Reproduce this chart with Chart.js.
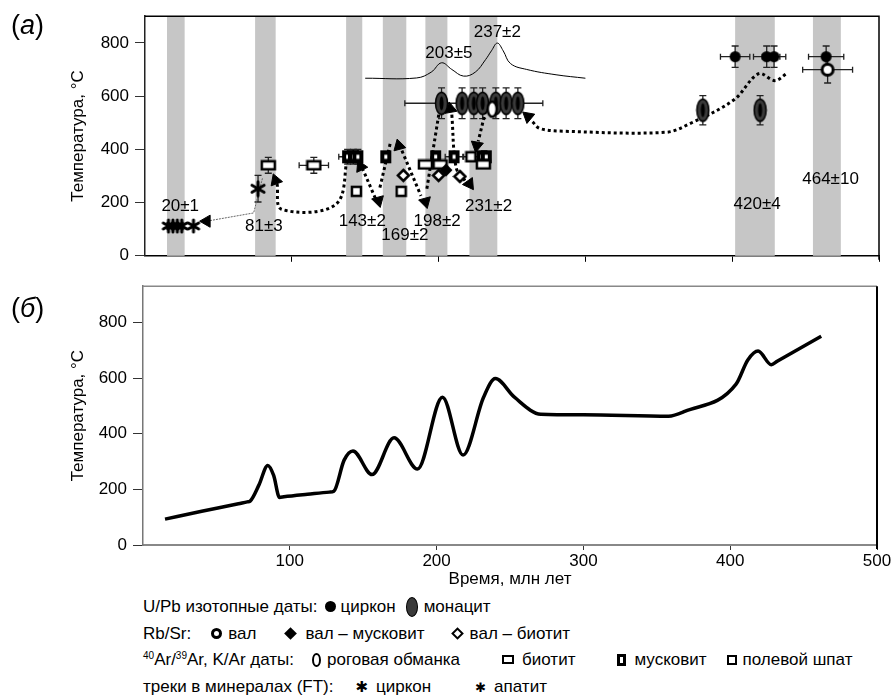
<!DOCTYPE html>
<html>
<head>
<meta charset="utf-8">
<script src="https://cdn.jsdelivr.net/npm/chart.js@4.4.1/dist/chart.umd.min.js"></script>
<style>
body { margin: 0; background: #fff; width: 895px; height: 698px; position: relative; overflow: hidden; font-family: "Liberation Sans", Arial, sans-serif; }
#ca { position: absolute; left: 0; top: 0; }
#cb { position: absolute; left: 0; top: 270px; }
.tag { position: absolute; left: 11px; font-size: 27px; color: #000; }
.tag i { font-style: italic; }
#legend { position: absolute; left: 143px; top: 594px; font-size: 17px; line-height: 26.7px; color: #000; white-space: nowrap; }
#legend sup { font-size: 10px; vertical-align: 6px; line-height: 0; }
.m { display: inline-block; vertical-align: middle; margin: 0 6px 2px 10px; box-sizing: border-box; }
.zr { width: 11px; height: 11px; border-radius: 50%; background: #000; margin-left: 8px; margin-right: 4px; }
.mz { width: 12px; height: 20px; border-radius: 50%; background: #3a3a3a; border: 1.5px solid #000; margin-left: 10px; }
.rw { width: 11px; height: 11px; border-radius: 50%; border: 3px solid #000; margin-left: 20px; }
.dm { width: 9px; height: 9px; background: #000; transform: rotate(45deg); margin-left: 30px; margin-right: 10px; }
.db { width: 9px; height: 9px; border: 2.5px solid #000; background: #fff; transform: rotate(45deg); margin-left: 28px; margin-right: 8px; }
.hb { width: 9px; height: 14px; border-radius: 50%; border: 2.5px solid #000; margin-left: 18px; margin-right: 6px; }
.bt { width: 12px; height: 9px; border: 2.5px solid #000; margin-left: 42px; margin-right: 8px; }
.ms { width: 9px; height: 12px; border: 3px solid #000; margin-left: 42px; margin-right: 8px; }
.fs { width: 10px; height: 10px; border: 2.5px solid #000; margin-left: 20px; margin-right: 6px; }
.as { font-family: "DejaVu Sans", sans-serif; font-size: 15px; font-weight: bold; margin: 0 8px 0 22px; }
.as2 { font-family: "DejaVu Sans", sans-serif; font-size: 13px; font-weight: bold; margin: 0 8px 0 44px; }
</style>
</head>
<body>
<canvas id="ca" width="895" height="272"></canvas>
<canvas id="cb" width="895" height="320"></canvas>
<div class="tag" style="top:10px">(<i>a</i>)</div>
<div class="tag" style="top:293px">(<i>б</i>)</div>
<div id="legend">
  <div>U/Pb изотопные даты:<span class="m zr"></span>циркон<span class="m mz"></span>монацит</div>
  <div>Rb/Sr:<span class="m rw"></span>вал<span class="m dm"></span>вал – мусковит<span class="m db"></span>вал – биотит</div>
  <div><sup>40</sup>Ar/<sup>39</sup>Ar, K/Ar даты:<span class="m hb"></span>роговая обманка<span class="m bt"></span>биотит<span class="m ms"></span>мусковит<span class="m fs"></span>полевой шпат</div>
  <div>треки в минералах (FT):<span class="as">✱</span>циркон<span class="as2">✱</span>апатит</div>
</div>
<script>
const F = '"Liberation Sans", Arial, sans-serif';

const xTicks = [100, 200, 300, 400, 500];
const yTicks = [0, 200, 400, 600, 800];
const bands = [[15, 27], [75, 89], [137, 148], [162, 178], [191, 206], [221, 240], [402, 429], [455, 474]];

// U/Pb, циркон
const zirconX = [402, 423.5, 428.5, 464];
const zirconY = [748, 748, 748, 748];
const zirconXErr = [10, 9, 8, 12];
const zirconYErr = [40, 40, 40, 40];

// U/Pb, монацит
const monaziteX = [202, 216, 224, 230, 239, 246, 254, 380, 419];
const monaziteY = [573, 573, 573, 573, 573, 573, 573, 547, 547];
const monaziteXErr = [0, 0, 47, 0, 0, 0, 0, 0, 0];
const monaziteYErr = [58, 58, 58, 58, 58, 58, 58, 55, 55];

// Rb/Sr
const wholeX = [465];
const wholeY = [699];
const wholeXErr = [17];
const wholeYErr = [50];
const valMuscX = [205];
const valMuscY = [322];
const valBioX = [176, 200, 214.5];
const valBioY = [302, 302, 298];

// Ar/Ar, K/Ar
const hornblendeX = [236.5];
const hornblendeY = [551];
const biotiteX = [84, 115, 191, 201, 230.5];
const biotiteY = [340, 340, 343, 343, 343];
const biotiteXErr = [0, 10, 4, 0, 0];
const biotiteYErr = [30, 30, 8, 8, 10];
const muscoviteX = [138, 142, 145, 164, 198, 210.5, 229.5, 232.5];
const muscoviteY = [372, 372, 372, 372, 372, 372, 372, 372];
const muscoviteXErr = [6, 0, 0, 0, 0, 6, 0, 0];
const muscoviteYErr = [28, 28, 28, 15, 12, 12, 12, 12];
const feldsparX = [144, 174.5, 222];
const feldsparY = [242, 242, 372];
const feldsparXErr = [0, 0, 5];
const feldsparYErr = [15, 15, 12];

// FT
const ftZirconX = [77];
const ftZirconY = [252];
const ftZirconYErr = [50];
const ftApatiteX = [16, 19, 22, 25, 33];
const ftApatiteY = [112, 112, 112, 112, 112];

// распределение возрастов циркона
const densX = [150, 185, 195, 202, 209, 217, 225, 232, 236, 240, 244, 249, 260, 280, 300];
const densY = [667, 668, 690, 725, 700, 675, 690, 737, 770, 799, 770, 722, 700, 680, 667];

// путь T-t (а)
const thinPath = [[80, 291], [74, 161], [42, 130]];
const dottedPaths = [
  [[90, 270], [93, 175], [130, 193], [138, 375]],
  [[148, 330], [157, 215]],
  [[160, 256], [167, 421]],
  [[175, 395], [188, 225]],
  [[192, 252], [201, 561]],
  [[209, 530], [212, 330], [218, 282]],
  [[232, 544], [227, 430]],
  [[264, 503], [269, 478], [285, 468], [355, 464], [371, 496], [401, 585], [418, 684], [429, 658], [437, 684]]
];
const arrowX = [42, 89, 147, 159, 173, 191, 208, 221, 226, 261];
const arrowY = [130, 283, 335, 207, 413, 203, 552, 270, 414, 523];
const arrowRot = [-90, -20, -25, 165, -15, 165, -10, 145, 190, -50];

const labText = ['20±1', '81±3', '143±2', '169±2', '198±2', '231±2', '203±5', '237±2', '420±4', '464±10'];
const labX = [24, 81, 148, 177, 199, 234, 207, 240, 417, 467];
const labY = [186, 112, 130, 77, 130, 186, 762, 840, 193, 288];

// модель (б)
const modelX = [15, 40, 65, 71, 73, 79, 85, 89, 93, 96, 112, 127, 130, 137, 143, 156, 171, 187, 204, 218, 232, 240, 253, 271, 300, 358, 369, 404, 412, 419, 428, 432, 462];
const modelY = [93, 121, 148, 155, 158, 216, 286, 250, 171, 173, 182, 190, 193, 305, 338, 253, 385, 273, 531, 323, 531, 598, 531, 470, 468, 463, 480, 578, 665, 697, 648, 660, 750];

function pts(xs, ys) { return xs.map((x, i) => ({ x: x, y: ys[i] })); }
function pairs(arr) { return arr.map(p => ({ x: p[0], y: p[1] })); }

function marker(w, h, draw) {
  const c = document.createElement('canvas');
  c.width = w; c.height = h;
  const g = c.getContext('2d');
  g.strokeStyle = '#000'; g.fillStyle = '#000';
  draw(g, w / 2, h / 2);
  return c;
}
const mZircon = marker(13, 13, (g, cx, cy) => { g.beginPath(); g.arc(cx, cy, 5.5, 0, Math.PI * 2); g.fill(); });
const mMonazite = marker(15, 25, (g, cx, cy) => {
  g.beginPath(); g.ellipse(cx, cy, 6, 11, 0, 0, Math.PI * 2);
  g.fillStyle = '#3a3a3a'; g.fill(); g.lineWidth = 1.5; g.stroke();
  g.beginPath(); g.ellipse(cx, cy, 2, 7, 0, 0, Math.PI * 2); g.fillStyle = '#000'; g.fill();
});
const mWhole = marker(16, 16, (g, cx, cy) => { g.beginPath(); g.arc(cx, cy, 5.5, 0, Math.PI * 2); g.fillStyle = '#fff'; g.fill(); g.lineWidth = 3; g.stroke(); });
const mValMusc = marker(14, 14, (g, cx, cy) => { g.beginPath(); g.moveTo(cx, cy - 6.5); g.lineTo(cx + 6.5, cy); g.lineTo(cx, cy + 6.5); g.lineTo(cx - 6.5, cy); g.closePath(); g.fill(); });
const mValBio = marker(15, 15, (g, cx, cy) => { g.beginPath(); g.moveTo(cx, cy - 5.5); g.lineTo(cx + 5.5, cy); g.lineTo(cx, cy + 5.5); g.lineTo(cx - 5.5, cy); g.closePath(); g.fillStyle = '#fff'; g.fill(); g.lineWidth = 2.5; g.stroke(); });
const mHorn = marker(13, 19, (g, cx, cy) => { g.beginPath(); g.ellipse(cx, cy, 4.5, 7.5, 0, 0, Math.PI * 2); g.fillStyle = '#fff'; g.fill(); g.lineWidth = 2.5; g.stroke(); });
const mBiotite = marker(17, 12, (g, cx, cy) => { g.fillStyle = '#fff'; g.fillRect(cx - 6.5, cy - 4, 13, 8); g.lineWidth = 2.5; g.strokeRect(cx - 6.5, cy - 4, 13, 8); });
const mMusc = marker(13, 15, (g, cx, cy) => { g.fillRect(cx - 5.5, cy - 6.5, 11, 13); g.fillStyle = '#fff'; g.fillRect(cx - 1.5, cy - 2, 3, 4); });
const mFeld = marker(13, 13, (g, cx, cy) => { g.fillStyle = '#fff'; g.fillRect(cx - 4.5, cy - 4.5, 9, 9); g.lineWidth = 2.5; g.strokeRect(cx - 4.5, cy - 4.5, 9, 9); });
function star(r, lw) {
  return marker(r * 2 + 4, r * 2 + 4, (g, cx, cy) => {
    g.lineWidth = lw; g.lineCap = 'round';
    for (let k = 0; k < 3; k++) {
      const a = Math.PI / 2 + k * Math.PI / 3;
      g.beginPath(); g.moveTo(cx - r * Math.cos(a), cy - r * Math.sin(a)); g.lineTo(cx + r * Math.cos(a), cy + r * Math.sin(a)); g.stroke();
    }
  });
}
const mFtZircon = star(7, 3);
const mFtApatite = star(6, 3);

function markerSet(data, style, xErr, yErr) {
  return { data: data, pointStyle: style, xErr: xErr, yErr: yErr, showLine: false, order: 1 };
}

const decorA = {
  id: 'decorA',
  beforeDatasetsDraw(chart) {
    const { ctx, chartArea: a, scales: { x, y } } = chart;
    ctx.save();
    ctx.fillStyle = '#c6c6c6';
    bands.forEach(b => {
      const x0 = x.getPixelForValue(b[0]), x1 = x.getPixelForValue(b[1]);
      ctx.fillRect(x0, a.top, x1 - x0, a.bottom - a.top);
    });
    ctx.strokeStyle = '#222';
    ctx.lineWidth = 1.3;
    chart.data.datasets.forEach(ds => {
      if (!ds.xErr && !ds.yErr) return;
      ds.data.forEach((p, i) => {
        const px = x.getPixelForValue(p.x), py = y.getPixelForValue(p.y);
        const ex = ds.xErr ? ds.xErr[i] : 0, ey = ds.yErr ? ds.yErr[i] : 0;
        ctx.beginPath();
        if (ex) {
          const l = x.getPixelForValue(p.x - ex), r = x.getPixelForValue(p.x + ex);
          ctx.moveTo(l, py); ctx.lineTo(r, py);
          ctx.moveTo(l, py - 3); ctx.lineTo(l, py + 3);
          ctx.moveTo(r, py - 3); ctx.lineTo(r, py + 3);
        }
        if (ey) {
          const t = y.getPixelForValue(p.y + ey), b = y.getPixelForValue(p.y - ey);
          ctx.moveTo(px, t); ctx.lineTo(px, b);
          ctx.moveTo(px - 3.5, t); ctx.lineTo(px + 3.5, t);
          ctx.moveTo(px - 3.5, b); ctx.lineTo(px + 3.5, b);
        }
        ctx.stroke();
      });
    });
    ctx.restore();
  },
  afterDraw(chart) {
    const { ctx, chartArea: a, scales: { x, y } } = chart;
    ctx.save();
    ctx.strokeStyle = '#000';
    ctx.lineWidth = 1.5;
    ctx.beginPath();
    ctx.moveTo(a.left, a.top); ctx.lineTo(a.right, a.top); ctx.lineTo(a.right, a.bottom + 4);
    ctx.stroke();
    ctx.fillStyle = '#000';
    ctx.font = '17px ' + F;
    ctx.textAlign = 'center';
    ctx.textBaseline = 'middle';
    labText.forEach((t, i) => ctx.fillText(t, x.getPixelForValue(labX[i]), y.getPixelForValue(labY[i])));
    ctx.restore();
  }
};

const decorB = {
  id: 'decorB',
  afterDraw(chart) {
    const { ctx, chartArea: a } = chart;
    ctx.save();
    ctx.lineWidth = 1.5;
    ctx.strokeStyle = '#888';
    ctx.beginPath(); ctx.moveTo(a.left, a.top); ctx.lineTo(a.right, a.top); ctx.stroke();
    ctx.strokeStyle = '#000';
    ctx.lineWidth = 2;
    ctx.beginPath(); ctx.moveTo(a.right, a.top); ctx.lineTo(a.right, a.bottom + 4); ctx.stroke();
    ctx.restore();
  }
};

function yAxis(max, width) {
  return {
    type: 'linear', min: 0, max: max,
    afterBuildTicks: ax => { ax.ticks = yTicks.map(v => ({ value: v })); },
    afterFit: ax => { ax.width = width; },
    ticks: { color: '#000', font: { size: 17, family: F }, padding: 6 },
    grid: { drawOnChartArea: false, tickLength: 10, color: '#333' },
    border: { color: '#222', width: 1.5 },
    title: { display: true, text: 'Температура, °C', color: '#000', font: { size: 17, family: F }, padding: { top: 68, bottom: 0 } }
  };
}

new Chart(document.getElementById('ca'), {
  type: 'scatter',
  data: {
    datasets: [
      markerSet(pts(zirconX, zirconY), mZircon, zirconXErr, zirconYErr),
      markerSet(pts(wholeX, wholeY), mWhole, wholeXErr, wholeYErr),
      markerSet(pts(hornblendeX, hornblendeY), mHorn),
      markerSet(pts(monaziteX, monaziteY), mMonazite, monaziteXErr, monaziteYErr),
      markerSet(pts(valMuscX, valMuscY), mValMusc),
      markerSet(pts(valBioX, valBioY), mValBio),
      markerSet(pts(biotiteX, biotiteY), mBiotite, biotiteXErr, biotiteYErr),
      markerSet(pts(muscoviteX, muscoviteY), mMusc, muscoviteXErr, muscoviteYErr),
      markerSet(pts(feldsparX, feldsparY), mFeld, feldsparXErr, feldsparYErr),
      markerSet(pts(ftZirconX, ftZirconY), mFtZircon, null, ftZirconYErr),
      markerSet(pts(ftApatiteX, ftApatiteY), mFtApatite),
      { data: pts(arrowX, arrowY), pointStyle: 'triangle', rotation: arrowRot, pointRadius: 7, backgroundColor: '#000', borderColor: '#000', borderWidth: 1, showLine: false, order: 2 },
      { data: pts(densX, densY), showLine: true, borderColor: '#000', borderWidth: 1, pointRadius: 0, tension: 0.4, order: 5 },
      { data: pairs(thinPath), showLine: true, borderColor: '#666', borderWidth: 1, borderDash: [2, 1], pointRadius: 0, order: 6 }
    ].concat(dottedPaths.map(p => ({ data: pairs(p), showLine: true, borderColor: '#000', borderWidth: 3, borderDash: [3, 3], pointRadius: 0, tension: 0.35, order: 6 })))
  },
  options: {
    responsive: false,
    animation: false,
    events: [],
    layout: { padding: { top: 9, right: 16, left: 0, bottom: 0 } },
    plugins: { legend: { display: false }, tooltip: { enabled: false } },
    scales: {
      x: {
        type: 'linear', min: 0, max: 500,
        afterBuildTicks: ax => { ax.ticks = xTicks.map(v => ({ value: v })); },
        afterFit: ax => { ax.height = 7; },
        ticks: { display: true, color: 'rgba(0,0,0,0)' },
        grid: { drawOnChartArea: false, tickLength: 6, color: '#000' },
        border: { color: '#000', width: 1.5 }
      },
      y: yAxis(900, 145)
    }
  },
  plugins: [decorA]
});

new Chart(document.getElementById('cb'), {
  type: 'scatter',
  data: {
    datasets: [
      { data: pts(modelX, modelY), showLine: true, borderColor: '#000', borderWidth: 3.5, pointRadius: 0, cubicInterpolationMode: 'monotone', borderJoinStyle: 'round' }
    ]
  },
  options: {
    responsive: false,
    animation: false,
    events: [],
    layout: { padding: { top: 10, right: 18, left: 0, bottom: 0 } },
    plugins: { legend: { display: false }, tooltip: { enabled: false } },
    scales: {
      x: {
        type: 'linear', min: 0, max: 500,
        afterBuildTicks: ax => { ax.ticks = xTicks.map(v => ({ value: v })); },
        afterFit: ax => { ax.height = 45; },
        ticks: { color: '#000', font: { size: 17, family: F }, padding: 1, maxRotation: 0 },
        grid: { drawOnChartArea: false, tickLength: 5, color: '#333' },
        border: { color: '#888', width: 2 },
        title: { display: true, text: 'Время, млн лет', color: '#000', font: { size: 17, family: F }, padding: { top: 3, bottom: 0 } }
      },
      y: Object.assign(yAxis(930, 143), { border: { color: '#777', width: 1.5 } })
    }
  },
  plugins: [decorB]
});
</script>
</body>
</html>
